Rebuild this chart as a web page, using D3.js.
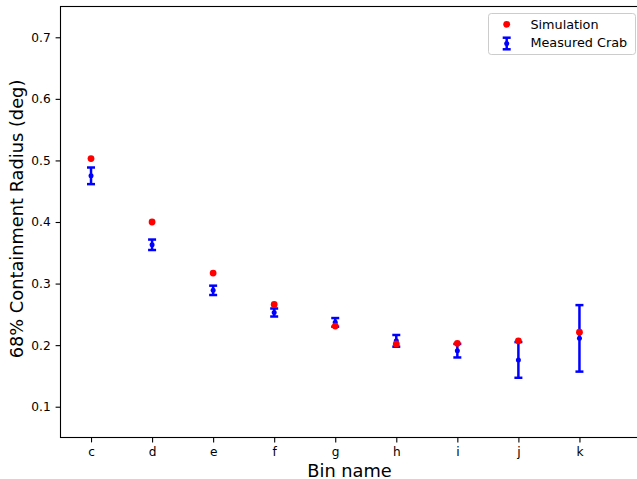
<!DOCTYPE html>
<html>
<head>
<meta charset="utf-8">
<script src="https://cdn.jsdelivr.net/npm/d3@7"></script>
<style>
  html, body { margin: 0; padding: 0; background: #fff; }
  svg { display: block; font-family: "DejaVu Sans", sans-serif; }
</style>
</head>
<body>
<svg id="chart" width="637" height="479"></svg>
<script>
// Bin names along the x axis
const bins = ["c", "d", "e", "f", "g", "h", "i", "j", "k"];
// Simulated 68% containment radius per bin (deg)
const simulation = [0.503, 0.400, 0.317, 0.266, 0.231, 0.202, 0.203, 0.207, 0.221];
// Measured Crab containment radius and its uncertainty (deg)
const measured = [0.475, 0.363, 0.289, 0.253, 0.237, 0.207, 0.191, 0.176, 0.211];
const measuredErr = [0.0135, 0.0085, 0.0076, 0.0065, 0.007, 0.0095, 0.011, 0.029, 0.054];
const yTicks = [0.1, 0.2, 0.3, 0.4, 0.5, 0.6, 0.7];

const svg = d3.select("#chart");
const plotLeft = 60.5, plotRight = 640.5, plotTop = 6.5, plotBottom = 437.5;

const x = d3.scaleLinear().domain([-0.5, 9]).range([plotLeft, plotRight]);
const y = d3.scaleLinear().domain([0.05, 0.75]).range([plotBottom, plotTop]);

const RED = "#ff0000", BLUE = "#0000ff";
const TICK_FONT = 12.2, LABEL_FONT = 17.8, LEGEND_FONT = 12.8;
const ERR_WIDTH = 2.5, capHalf = 4;

// Axes
const xAxis = d3.axisBottom(x)
  .tickValues(d3.range(bins.length))
  .tickFormat(i => bins[i])
  .tickSize(4.9).tickPadding(4.9).tickSizeOuter(0);
const yAxis = d3.axisLeft(y)
  .tickValues(yTicks)
  .tickFormat(d3.format(".1f"))
  .tickSize(4.9).tickPadding(4.9).tickSizeOuter(0);

const gx = svg.append("g").attr("transform", `translate(0,${plotBottom})`).call(xAxis);
const gy = svg.append("g").attr("transform", `translate(${plotLeft},0)`).call(yAxis);
[gx, gy].forEach(g => {
  g.selectAll("text").attr("font-size", TICK_FONT).attr("fill", "#000")
    .attr("font-family", "DejaVu Sans, sans-serif");
  g.selectAll("line").attr("stroke", "#000").attr("stroke-width", 1.1);
  g.select(".domain").remove();
});

// Frame
svg.append("rect")
  .attr("x", plotLeft).attr("y", plotTop)
  .attr("width", plotRight - plotLeft).attr("height", plotBottom - plotTop)
  .attr("fill", "none").attr("stroke", "#000").attr("stroke-width", 1.1);

// Axis titles
svg.append("text")
  .attr("x", 349.5).attr("y", 476.5)
  .attr("text-anchor", "middle").attr("font-size", LABEL_FONT).text("Bin name");
svg.append("text")
  .attr("transform", `translate(23,219) rotate(-90)`)
  .attr("text-anchor", "middle").attr("font-size", LABEL_FONT)
  .text("68% Containment Radius (deg)");

// Measured points with error bars
const eb = svg.append("g").selectAll("g").data(measured).join("g");
eb.append("line")
  .attr("x1", (d, i) => x(i)).attr("x2", (d, i) => x(i))
  .attr("y1", (d, i) => y(d - measuredErr[i])).attr("y2", (d, i) => y(d + measuredErr[i]))
  .attr("stroke", BLUE).attr("stroke-width", ERR_WIDTH);
eb.append("line")
  .attr("x1", (d, i) => x(i) - capHalf).attr("x2", (d, i) => x(i) + capHalf)
  .attr("y1", (d, i) => y(d + measuredErr[i])).attr("y2", (d, i) => y(d + measuredErr[i]))
  .attr("stroke", BLUE).attr("stroke-width", ERR_WIDTH);
eb.append("line")
  .attr("x1", (d, i) => x(i) - capHalf).attr("x2", (d, i) => x(i) + capHalf)
  .attr("y1", (d, i) => y(d - measuredErr[i])).attr("y2", (d, i) => y(d - measuredErr[i]))
  .attr("stroke", BLUE).attr("stroke-width", ERR_WIDTH);
eb.append("circle")
  .attr("cx", (d, i) => x(i)).attr("cy", d => y(d)).attr("r", 2.5)
  .attr("fill", BLUE);

// Simulation points
svg.append("g").selectAll("circle").data(simulation).join("circle")
  .attr("cx", (d, i) => x(i)).attr("cy", d => y(d)).attr("r", 3.4)
  .attr("fill", RED);

// Legend
const lg = svg.append("g");
lg.append("rect")
  .attr("x", 488.5).attr("y", 13.5).attr("width", 147).attr("height", 41)
  .attr("rx", 2.8).attr("fill", "#fff").attr("fill-opacity", 0.8)
  .attr("stroke", "#cccccc").attr("stroke-width", 1);
lg.append("circle").attr("cx", 506.7).attr("cy", 24.3).attr("r", 3.4).attr("fill", RED);
lg.append("text").attr("x", 530.4).attr("y", 29.3).attr("font-size", LEGEND_FONT).text("Simulation");
lg.append("line").attr("x1", 506.7).attr("x2", 506.7).attr("y1", 37.7).attr("y2", 49.3)
  .attr("stroke", BLUE).attr("stroke-width", ERR_WIDTH);
[37.7, 49.3].forEach(cy => lg.append("line")
  .attr("x1", 506.7 - capHalf).attr("x2", 506.7 + capHalf).attr("y1", cy).attr("y2", cy)
  .attr("stroke", BLUE).attr("stroke-width", ERR_WIDTH));
lg.append("circle").attr("cx", 506.7).attr("cy", 43.5).attr("r", 2.5).attr("fill", BLUE);
lg.append("text").attr("x", 530.4).attr("y", 47).attr("font-size", LEGEND_FONT).text("Measured Crab");
</script>
</body>
</html>
